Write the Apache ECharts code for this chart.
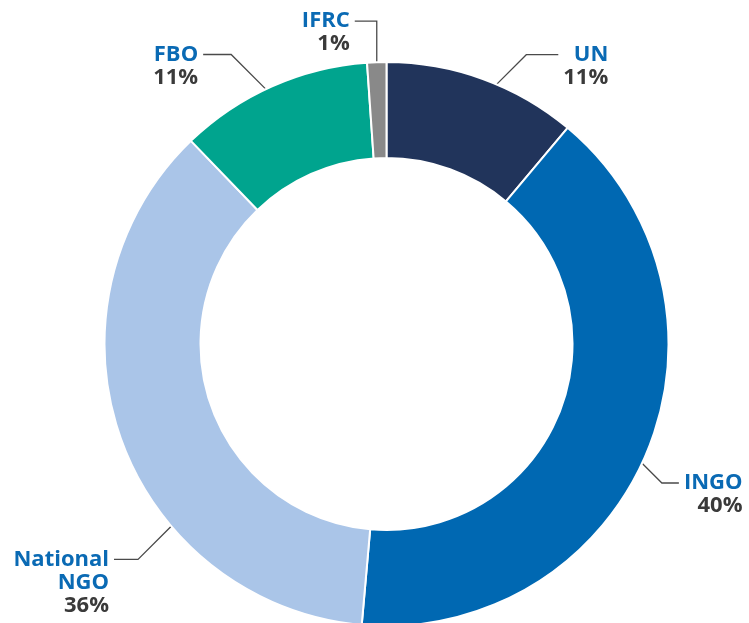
<!DOCTYPE html>
<html><head><meta charset="utf-8">
<script src="https://cdn.jsdelivr.net/npm/echarts@6/dist/echarts.min.js"></script>
<style>html,body{margin:0;padding:0;background:#fff}#c{width:749px;height:623px}</style>
</head><body><div id="c"></div>
<script>
// ---- data ----
const categories = ['UN', 'INGO', 'National NGO', 'FBO', 'IFRC'];
const labelLines = [['UN'], ['INGO'], ['National', 'NGO'], ['FBO'], ['IFRC']];
const shares = [11.1, 40.3, 36.4, 11.1, 1.1];      // slice sizes
const shownPercent = [11, 40, 36, 11, 1];          // percentages printed on the chart

// ---- style ----
const colors = ['#21345b', '#0068b2', '#aac5e8', '#00a48e', '#898989'];
const CX = 386.5, CY = 344, R0 = 186, R = 282;
const FONT = 22, LINE_H = 23, GAP = 5;
// leader line styling: touch-angle shift (deg), first segment length & direction (deg, clockwise from up), horizontal tail (signed)
const leadShift = [3, 2.5, -20.8, -1.4, 0];
const leadLen1 = [42, 28, 47, 49, 41];
const leadDir1 = [45, 135, 225, 315, 0];
const leadLen2 = [32, 17, -24, -28, -22];

const total = shares.reduce((a, b) => a + b, 0);
const midAngles = [];
let acc = 0;
shares.forEach(v => { midAngles.push((acc + v / 2) / total * 360); acc += v; });

const chart = echarts.init(document.getElementById('c'), null, {renderer: 'canvas'});
chart.setOption({
  animation: false,
  backgroundColor: '#ffffff',
  series: [{
    type: 'pie',
    center: [CX, CY],
    radius: [R0, R],
    startAngle: 90,
    clockwise: true,
    avoidLabelOverlap: false,
    itemStyle: {borderColor: '#ffffff', borderWidth: 2},
    label: {
      show: true,
      position: 'outside',
      fontFamily: 'Open Sans',
      fontWeight: 'bold',
      fontSize: FONT,
      lineHeight: LINE_H,
      formatter: p => {
        const i = p.dataIndex;
        return labelLines[i].map(s => '{n|' + s + '}').join('\n') + '\n{p|' + shownPercent[i] + '%}';
      },
      rich: {
        n: {color: '#0a6ab4', fontFamily: 'Open Sans', fontWeight: 'bold', fontSize: FONT, lineHeight: LINE_H, align: 'right'},
        p: {color: '#3a3a3a', fontFamily: 'Open Sans', fontWeight: 'bold', fontSize: FONT, lineHeight: LINE_H, align: 'right'}
      }
    },
    labelLine: {show: true, lineStyle: {color: '#4a4a4a', width: 1.3}},
    labelLayout: params => {
      const i = params.dataIndex;
      const a = (midAngles[i] + leadShift[i]) * Math.PI / 180;
      const p0 = [CX + R * Math.sin(a), CY - R * Math.cos(a)];
      const d = leadDir1[i] * Math.PI / 180;
      const p1 = [p0[0] + leadLen1[i] * Math.sin(d), p0[1] - leadLen1[i] * Math.cos(d)];
      const p2 = [p1[0] + leadLen2[i], p1[1]];
      const right = leadLen2[i] > 0;
      return {
        x: p2[0] + (right ? GAP : -GAP),
        y: p1[1] - LINE_H / 2,
        align: right ? 'left' : 'right',
        verticalAlign: 'top',
        labelLinePoints: [p0, p1, p2]
      };
    },
    data: categories.map((c, i) => ({name: c, value: shares[i], itemStyle: {color: colors[i]}}))
  }]
});
</script>
</body></html>
